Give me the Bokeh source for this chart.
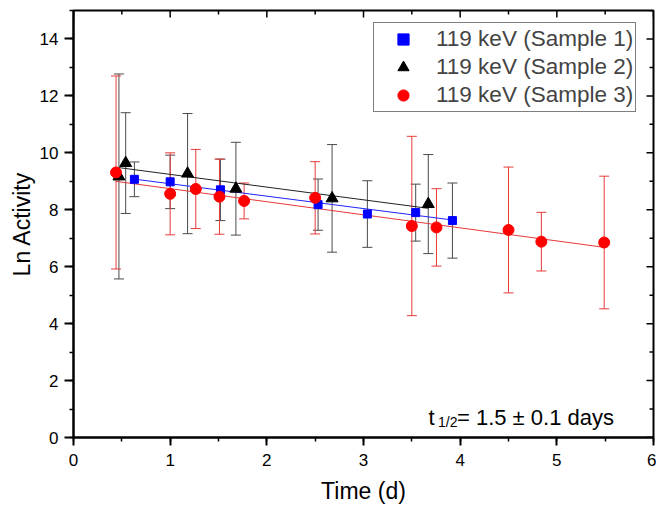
import numpy as np
from bokeh.plotting import figure
from bokeh.models import (ColumnDataSource, Whisker, TeeHead, Legend, LegendItem,
                          Range1d, Label, SingleIntervalTicker)
from bokeh.embed import file_html
from bokeh.resources import INLINE

# ---- data ----
labels = ["119 keV (Sample 1)", "119 keV (Sample 2)", "119 keV (Sample 3)"]

t1 = [0.63, 1.00, 1.52, 2.53, 3.04, 3.54, 3.92]
y1 = [9.07, 8.98, 8.70, 8.18, 7.85, 7.90, 7.62]
e1 = [0.61, 0.94, 1.08, 0.90, 1.17, 1.00, 1.32]

t2 = [0.47, 0.54, 1.18, 1.68, 2.675, 3.67]
y2 = [9.17, 9.64, 9.27, 8.74, 8.40, 8.20]
e2 = [3.60, 1.77, 2.11, 1.63, 1.89, 1.74]

t3 = [0.44, 1.00, 1.265, 1.51, 1.765, 2.50, 3.50, 3.755, 4.50, 4.84, 5.49]
y3 = [9.31, 8.56, 8.73, 8.46, 8.31, 8.42, 7.43, 7.38, 7.29, 6.88, 6.85]
e3 = [3.39, 1.44, 1.39, 1.32, 0.63, 1.27, 3.15, 1.36, 2.21, 1.03, 2.33]

# linear fits (intercept, slope)
fit1 = (9.35, -0.436)
fit2 = (9.69, -0.447)
fit3 = (9.20, -0.459)

half_life_text = "= 1.5 \u00b1 0.1 days"

x_ticks_minor = np.arange(0, 6.01, 0.5)
y_ticks_minor = np.arange(0, 15.01, 1.0)

FONT = "Liberation Sans"
X0, X1, Y0, Y1 = 0, 6, 0, 15

p = figure(width=656, height=506, output_backend="svg", toolbar_location=None,
           x_range=Range1d(X0, X1), y_range=Range1d(Y0, Y1),
           min_border_left=73, min_border_right=3, min_border_top=10, min_border_bottom=69)
p.xgrid.visible = False
p.ygrid.visible = False
p.outline_line_color = "black"
p.outline_line_width = 2
p.background_fill_color = "white"
p.border_fill_color = "white"

def style_axis(ax, ticker, tick_out):
    ax.ticker = ticker
    ax.axis_line_width = 2
    ax.axis_line_color = "black"
    ax.major_tick_line_width = 2
    ax.minor_tick_line_width = 1.5
    ax.major_tick_line_color = "black"
    ax.minor_tick_line_color = "black"
    ax.major_tick_in = 0
    ax.minor_tick_in = 0
    ax.major_tick_out = tick_out
    ax.minor_tick_out = 4
    ax.major_label_text_font = FONT
    ax.major_label_text_font_size = "17px"
    ax.major_label_text_color = "black"
    ax.axis_label_text_font = FONT
    ax.axis_label_text_font_size = "23px"
    ax.axis_label_text_font_style = "normal"
    ax.axis_label_text_color = "black"

xa = p.xaxis[0]
style_axis(xa, SingleIntervalTicker(interval=1, num_minor_ticks=2), 8)
xa.major_label_standoff = 8
xa.axis_label = "Time (d)"
xa.axis_label_standoff = 9

ya = p.yaxis[0]
style_axis(ya, SingleIntervalTicker(interval=2, num_minor_ticks=2), 9)
ya.major_label_standoff = 6
ya.axis_label = "Ln Activity"
ya.axis_label_standoff = 2

# mirrored inward ticks on top and right edges (screen-length rays)
xt_len = np.where(np.isclose(x_ticks_minor % 1, 0), 7, 4)
yt_len = np.where(np.isclose(y_ticks_minor % 2, 0), 7, 4)
p.ray(x=x_ticks_minor, y=np.full(len(x_ticks_minor), Y1), length=xt_len,
      length_units="screen", angle=-np.pi / 2, line_color="black", line_width=1.5)
p.ray(x=np.full(len(y_ticks_minor), X1), y=y_ticks_minor, length=yt_len,
      length_units="screen", angle=np.pi, line_color="black", line_width=1.5)

# ---- fit lines ----
for ts, fit, col in [(t1, fit1, "#2222ff"), (t2, fit2, "#222222"), (t3, fit3, "#e83838")]:
    xs = np.array([min(ts), max(ts)])
    p.line(xs, fit[0] + fit[1] * xs, line_color=col, line_width=1)

# ---- error bars ----
def add_err(ts, ys, es, col):
    ys = np.array(ys); es = np.array(es)
    src = ColumnDataSource(dict(x=ts, up=ys + es, lo=ys - es))
    w = Whisker(base="x", upper="up", lower="lo", source=src,
                line_color=col, line_width=1,
                upper_head=TeeHead(size=10, line_color=col, line_width=1),
                lower_head=TeeHead(size=10, line_color=col, line_width=1))
    p.add_layout(w)

add_err(t1, y1, e1, "#4a4a4a")
add_err(t2, y2, e2, "#4a4a4a")
add_err(t3, y3, e3, "#e83a3a")

# ---- markers ----
r1 = p.scatter(t1, y1, marker="square", size=8, fill_color="#0000ff", line_color="#0000ff")
r2 = p.scatter(t2, y2, marker="triangle", size=12, fill_color="black", line_color="black")
r3 = p.scatter(t3, y3, marker="circle", size=11, fill_color="#ff0000", line_color="#ff0000")

legend = Legend(items=[LegendItem(label=labels[0], renderers=[r1]),
                       LegendItem(label=labels[1], renderers=[r2]),
                       LegendItem(label=labels[2], renderers=[r3])],
                location=(300, 325), orientation="vertical",
                border_line_color="black", border_line_width=1,
                background_fill_color="white", background_fill_alpha=1,
                label_text_font=FONT, label_text_font_size="22.5px",
                glyph_height=28, label_height=28, glyph_width=54,
                label_standoff=6, spacing=0, padding=2, margin=0)
p.add_layout(legend, "center")

# ---- half-life annotation ----
ax_, ay_ = 3.672, 0.71
p.add_layout(Label(x=ax_, y=ay_, text="t", text_font=FONT, text_font_size="22px",
                   text_align="left", text_baseline="alphabetic", text_color="black"))
p.add_layout(Label(x=ax_, y=ay_, x_offset=9.5, y_offset=-5, text="1/2", text_font=FONT,
                   text_font_size="14px", text_align="left", text_baseline="alphabetic",
                   text_color="black"))
p.add_layout(Label(x=ax_, y=ay_, x_offset=28.5, text=half_life_text, text_font=FONT,
                   text_font_size="22px", text_align="left", text_baseline="alphabetic",
                   text_color="black"))

open("out.html", "w").write(file_html(p, INLINE))
